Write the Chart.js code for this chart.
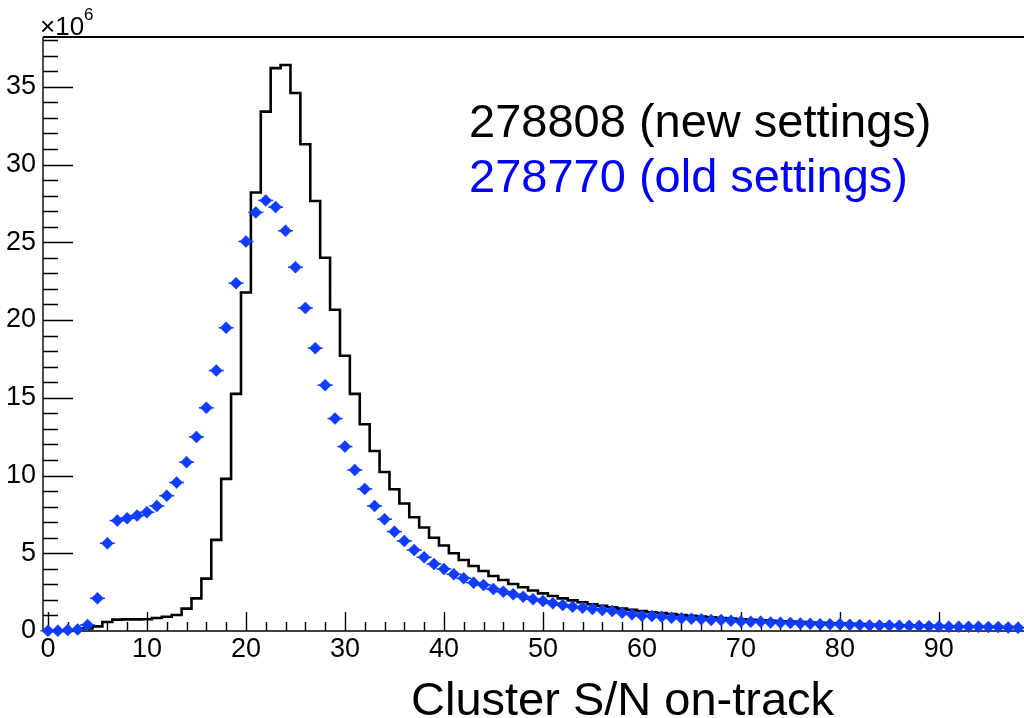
<!DOCTYPE html>
<html lang="en">
<head>
<meta charset="UTF-8">
<title>Cluster S/N on-track</title>
<script src="https://cdn.jsdelivr.net/npm/chart.js"></script>
<style>
  html, body {margin:0; padding:0; background:#fff; overflow:hidden;}
  #wrap {width:1024px; height:718px; position:relative; overflow:hidden;}
  #sn {display:block;}
</style>
</head>
<body>
<div id="wrap"><canvas id="sn" width="1024" height="718"></canvas></div>
<script>
// bin centres of the S/N histogram (unit-wide bins)
const binCenters = [
   0,  1,  2,  3,  4,  5,  6,  7,  8,  9, 10, 11, 12, 13, 14, 15, 16, 17, 18, 19,
  20, 21, 22, 23, 24, 25, 26, 27, 28, 29, 30, 31, 32, 33, 34, 35, 36, 37, 38, 39,
  40, 41, 42, 43, 44, 45, 46, 47, 48, 49, 50, 51, 52, 53, 54, 55, 56, 57, 58, 59,
  60, 61, 62, 63, 64, 65, 66, 67, 68, 69, 70, 71, 72, 73, 74, 75, 76, 77, 78, 79,
  80, 81, 82, 83, 84, 85, 86, 87, 88, 89, 90, 91, 92, 93, 94, 95, 96, 97, 98
];

// entries per bin, in units of 10^6
const run278808 = [ // new settings (black histogram)
  0.01, 0.01, 0.02, 0.05, 0.17, 0.30, 0.58, 0.73, 0.75, 0.75,
  0.76, 0.84, 0.92, 1.03, 1.44, 2.10, 3.37, 5.86, 9.78, 15.25,
  21.77, 28.20, 33.40, 36.20, 36.40, 34.60, 31.30, 27.65, 24.00, 20.66,
  17.70, 15.25, 13.30, 11.58, 10.23, 9.12, 8.20, 7.32, 6.66, 6.00,
  5.50, 5.00, 4.57, 4.18, 3.86, 3.54, 3.28, 3.02, 2.81, 2.60,
  2.42, 2.25, 2.10, 1.97, 1.85, 1.72, 1.62, 1.53, 1.44, 1.36,
  1.28, 1.21, 1.15, 1.09, 1.03, 0.98, 0.93, 0.88, 0.84, 0.80,
  0.76, 0.72, 0.69, 0.66, 0.63, 0.60, 0.57, 0.55, 0.52, 0.50,
  0.48, 0.46, 0.44, 0.42, 0.41, 0.39, 0.37, 0.36, 0.35, 0.33,
  0.32, 0.31, 0.30, 0.29, 0.28, 0.27, 0.26, 0.25, 0.24
];
const run278770 = [ // old settings (blue markers)
  0.02, 0.02, 0.06, 0.10, 0.39, 2.10, 5.64, 7.10, 7.25, 7.42,
  7.64, 8.04, 8.70, 9.55, 10.86, 12.48, 14.35, 16.75, 19.50, 22.37,
  25.05, 26.92, 27.69, 27.26, 25.74, 23.40, 20.77, 18.19, 15.81, 13.66,
  11.86, 10.36, 9.14, 8.04, 7.19, 6.39, 5.79, 5.21, 4.74, 4.31,
  3.99, 3.65, 3.39, 3.11, 2.96, 2.70, 2.53, 2.36, 2.21, 2.04,
  1.93, 1.78, 1.67, 1.56, 1.50, 1.42, 1.35, 1.29, 1.18, 1.07,
  0.98, 0.96, 0.92, 0.86, 0.82, 0.79, 0.76, 0.71, 0.70, 0.66,
  0.61, 0.60, 0.60, 0.54, 0.53, 0.52, 0.49, 0.46, 0.44, 0.43,
  0.44, 0.40, 0.39, 0.36, 0.35, 0.35, 0.34, 0.33, 0.32, 0.30,
  0.29, 0.28, 0.28, 0.27, 0.27, 0.26, 0.25, 0.23, 0.21
];

const xTickValues = [0, 10, 20, 30, 40, 50, 60, 70, 80, 90];
const yTickValues = [0, 5, 10, 15, 20, 25, 30, 35];

const BLUE = '#0f3cff';
const tickFont = "'Liberation Sans Narrow', 'Liberation Sans', Arial, sans-serif";
const textFont = "'Liberation Sans', Arial, sans-serif";

// histogram outline: one point per left bin edge plus the closing edge
const histPoints = binCenters.map((c, i) => ({x: c - 0.5, y: run278808[i]}));
histPoints.push({x: binCenters[binCenters.length - 1] + 0.5, y: run278808[run278808.length - 1]});
const oldPoints = binCenters.map((c, i) => ({x: c, y: run278770[i]}));

// frame, axis lines and ROOT-style major/minor tick marks
const rootAxes = {
  id: 'rootAxes',
  beforeDatasetsDraw(chart) {
    const {ctx, chartArea: a, scales: {x, y}} = chart;
    ctx.save();
    ctx.strokeStyle = '#000';
    ctx.lineWidth = 2.2;
    ctx.beginPath();
    ctx.moveTo(a.left, a.top); ctx.lineTo(a.right, a.top);
    ctx.stroke();
    ctx.lineWidth = 1.4;
    ctx.beginPath();
    ctx.moveTo(a.left, a.top); ctx.lineTo(a.left, a.bottom);
    ctx.moveTo(a.left, a.bottom); ctx.lineTo(a.right, a.bottom);
    for (let v = 0; v <= y.max; v += 1) {
      const py = Math.round(y.getPixelForValue(v)) + 0.5;
      const len = v % 5 === 0 ? 30 : 15;
      ctx.moveTo(a.left, py); ctx.lineTo(a.left + len, py);
    }
    for (let v = 0; v <= x.max; v += 2) {
      const px = Math.round(x.getPixelForValue(v)) + 0.5;
      const len = v % 10 === 0 ? 19 : 9;
      ctx.moveTo(px, a.bottom); ctx.lineTo(px, a.bottom - len);
    }
    ctx.stroke();
    ctx.restore();
  },
  afterDraw(chart) {
    const {ctx} = chart;
    ctx.save();
    ctx.fillStyle = '#000';
    ctx.textBaseline = 'alphabetic';
    ctx.font = "26px " + tickFont;
    ctx.fillText('\u00d710', 40, 35);
    const w = ctx.measureText('\u00d710').width;
    ctx.font = "17px " + tickFont;
    ctx.fillText('6', 40 + w, 20);

    ctx.font = "47px " + textFont;
    ctx.fillText('278808 (new settings)', 469, 137);
    ctx.fillStyle = '#0000ff';
    ctx.fillText('278770 (old settings)', 469, 192);

    ctx.fillStyle = '#000';
    ctx.fillText('Cluster S/N on-track', 411, 715);
    ctx.restore();
  }
};

const canvas = document.getElementById('sn');

function build(width) {
  canvas.width = width;
  canvas.height = 718;
  canvas.style.width = width + 'px';
  canvas.style.height = '718px';
  return new Chart(canvas, {
    type: 'line',
    data: {
      datasets: [
        {
          label: '278770 (old settings)',
          data: oldPoints,
          showLine: false,
          pointStyle: 'rectRot',
          pointRadius: 6,
          pointHoverRadius: 0,
          pointBackgroundColor: BLUE,
          pointBorderColor: BLUE,
          pointBorderWidth: 0.5,
          clip: false
        },
        {
          label: 'x errors',
          data: oldPoints,
          showLine: false,
          pointStyle: 'line',
          pointRadius: 7.5,
          pointHoverRadius: 0,
          pointBorderColor: BLUE,
          pointBorderWidth: 1.5,
          clip: false
        },
        {
          label: '278808 (new settings)',
          data: histPoints,
          // horizontal across each bin at its own value, then vertical at the edge
          stepped: 'before',
          borderColor: '#000',
          borderWidth: 2.6,
          pointRadius: 0,
          pointHoverRadius: 0,
          fill: false
        }
      ]
    },
    options: {
      responsive: false,
      animation: false,
      events: [],
      layout: {padding: {top: 37, right: 0, left: 0, bottom: 0}},
      plugins: {legend: {display: false}, tooltip: {enabled: false}, title: {display: false}},
      scales: {
        x: {
          type: 'linear',
          min: -0.5,
          max: 98.6,
          afterBuildTicks: s => { s.ticks = xTickValues.map(v => ({value: v})); },
          afterFit: s => { s.height = 87; },
          grid: {display: false, drawTicks: false},
          border: {display: false},
          ticks: {color: '#000', font: {family: tickFont, size: 27}, padding: 2, maxRotation: 0, autoSkip: false}
        },
        y: {
          type: 'linear',
          min: 0,
          max: 38.2,
          afterBuildTicks: s => { s.ticks = yTickValues.map(v => ({value: v})); },
          afterFit: s => { s.width = 43; },
          grid: {display: false, drawTicks: false},
          border: {display: false},
          ticks: {color: '#000', font: {family: tickFont, size: 27}, padding: 7}
        }
      }
    },
    plugins: [rootAxes]
  });
}

// the markers reserve some padding on the right; rebuild on a wider canvas
// so the plot frame runs to the page edge (the overflow is hidden by #wrap)
let chart = build(1024);
const spare = Math.round(1024 - chart.chartArea.right);
if (spare > 0) {
  chart.destroy();
  chart = build(1024 + spare);
}
</script>
</body>
</html>
